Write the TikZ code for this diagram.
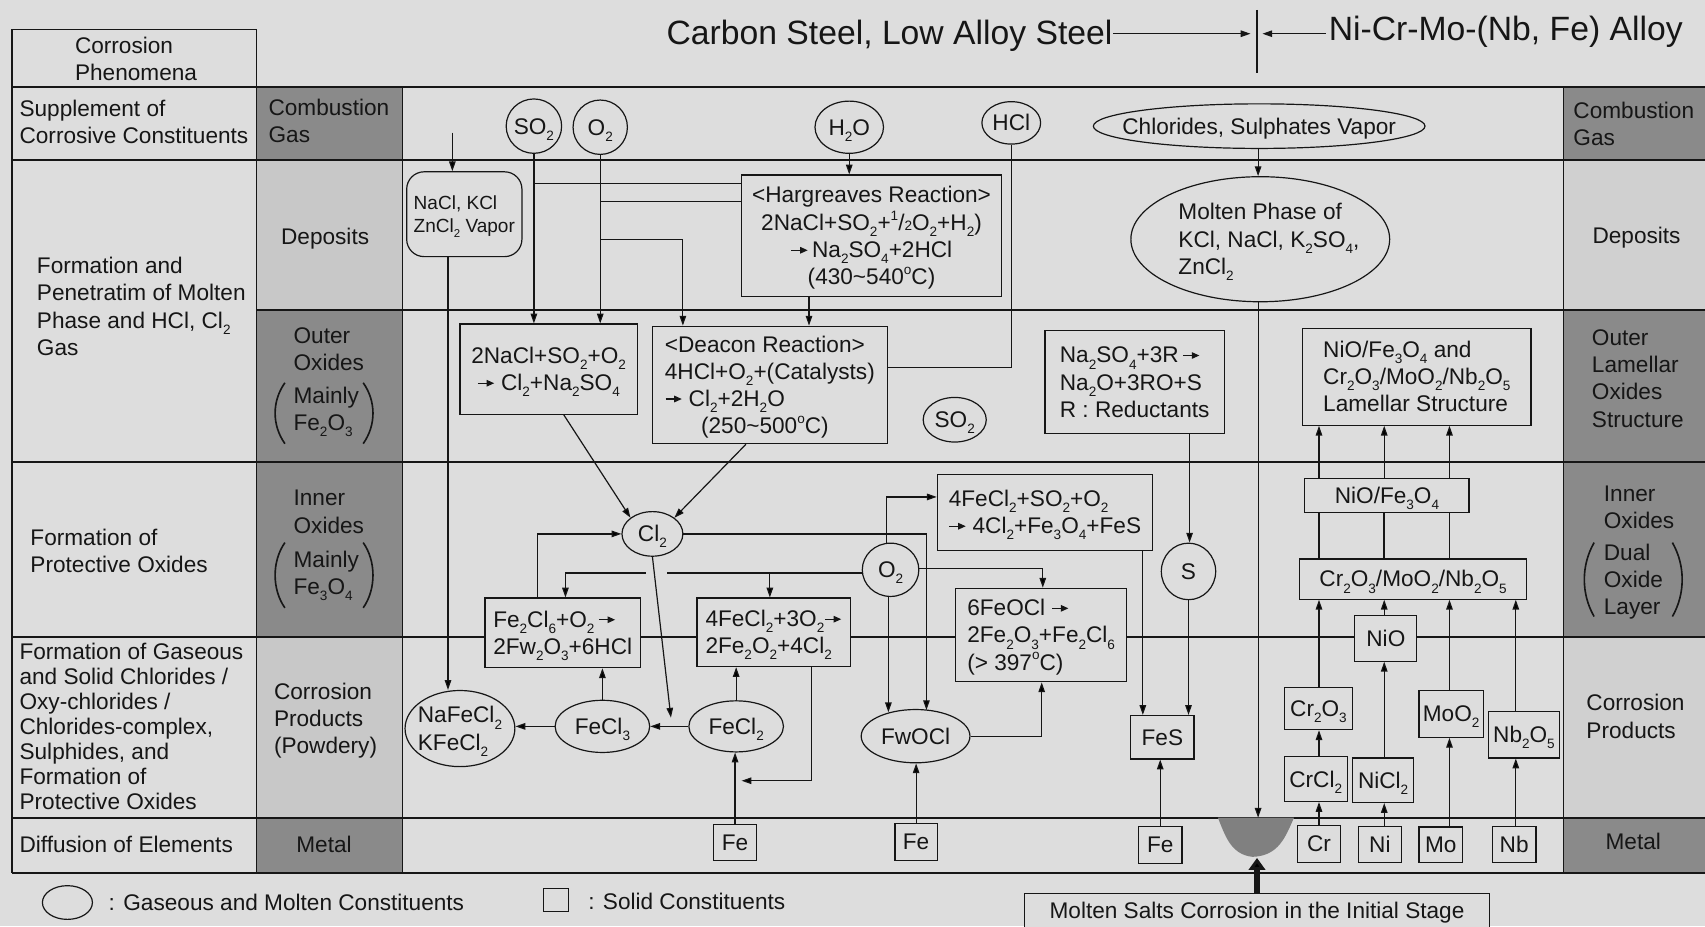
\documentclass[tikz,border=0pt]{standalone}
\usepackage{fontspec}
\setmainfont{Liberation Sans}
\usepackage{graphicx}
\usetikzlibrary{shapes.geometric,arrows.meta}
\pgfdeclarelayer{bg}
\pgfsetlayers{bg,main}
\definecolor{bgc}{RGB}{221,221,221}
\definecolor{dk}{RGB}{138,138,138}
\definecolor{lt}{RGB}{200,200,200}
\definecolor{lr}{RGB}{208,208,208}
\definecolor{ink}{RGB}{22,22,22}
\definecolor{blobc}{RGB}{128,128,128}
\newcommand\fs{\fontsize{20.8}{25}\selectfont}
\newcommand\sbs[1]{\raisebox{-0.27em}{\scalebox{0.6}{#1}}}
\newcommand\sps[1]{\raisebox{0.45em}{\scalebox{0.6}{#1}}}
\newcommand\rar{\tikz[baseline=0pt]\draw[draw=ink,line width=1.1pt,-{Triangle[length=7pt,width=6pt]}] (0pt,0.33em)--(15pt,0.33em);}
\newcommand\zc[1]{\makebox[0pt]{\raisebox{-0.36em}[0pt][0pt]{\begin{tabular}{@{}c@{}}#1\end{tabular}}}}
\newcommand\zl[1]{\makebox[0pt]{\raisebox{-0.36em}[0pt][0pt]{\begin{tabular}{@{}l@{}}#1\end{tabular}}}}
\newcommand\zw[1]{\makebox[0pt][l]{\raisebox{-0.36em}[0pt][0pt]{\begin{tabular}{@{}l@{}}#1\end{tabular}}}}
\begin{document}
\begin{tikzpicture}[x=1pt,y=-1pt,
  box/.style={draw=ink, line width=1.1pt, fill=bgc, rectangle, inner sep=0pt, font=\fs, text=ink},
  rbox/.style={box, rounded corners=16pt},
  gas/.style={draw=ink, line width=1.1pt, fill=bgc, ellipse, inner sep=0pt, font=\fs, text=ink},
  lbl/.style={inner sep=0pt, font=\fs, text=ink},
  arr/.style={draw=ink, line width=1.1pt, -{Triangle[length=9pt,width=6pt]}},
  ln/.style={draw=ink, line width=1.1pt},
  tline/.style={draw=ink, line width=1.5pt},
  paren/.style={draw=ink, line width=1.5pt}]
\useasboundingbox (0,0) rectangle (1568,852);

% ---------- table ----------
\begin{pgfonlayer}{bg}
\fill[bgc] (0,0) rectangle (1568,852);
\fill[dk] (236,80) rectangle (370,147);
\fill[lt] (236,147) rectangle (370,285);
\fill[dk] (236,285) rectangle (370,586);
\fill[lt] (236,586) rectangle (370,752);
\fill[dk] (236,752) rectangle (370,803);
\fill[dk] (1438,80) rectangle (1568,147);
\fill[lr] (1438,147) rectangle (1568,285);
\fill[dk] (1438,285) rectangle (1568,586);
\fill[lr] (1438,586) rectangle (1568,752);
\fill[dk] (1438,752) rectangle (1568,803);
\draw[tline] (11,27) rectangle (236,80);
\draw[tline] (11,80) -- (1568,80);
\draw[tline] (11,147) -- (1568,147);
\draw[tline] (236,285) -- (1568,285);
\draw[tline] (11,425) -- (1568,425);
\draw[tline] (11,586) -- (1568,586);
\draw[tline] (11,752) -- (1568,752);
\draw[tline] (11,803) -- (1568,803);
\draw[tline] (11,27) -- (11,803);
\draw[tline] (236,27) -- (236,803);
\draw[tline] (370,80) -- (370,803);
\draw[tline] (1438,80) -- (1438,803);
\end{pgfonlayer}

% ---------- title ----------
\node[lbl,font=\fontsize{31}{36}\selectfont] (tl) at (613,29) {\zw{Carbon Steel, Low Alloy Steel}};
\node[lbl,font=\fontsize{31}{36}\selectfont] (tr) at (1222,25) {\zw{Ni-Cr-Mo-(Nb, Fe) Alloy}};
\coordinate (tl1) at (1024,31);
\coordinate (tm1) at (1150,31);
\coordinate (tr1) at (1219,31);
\coordinate (tm2) at (1161,31);
\coordinate (vt) at (1156,9);
\coordinate (vb) at (1156,67);
\draw[arr] (tl1) -- (tm1);
\draw[arr] (tr1) -- (tm2);
\draw[ln] (vt) -- (vb);

% ---------- table labels ----------
\node[lbl] (tCP) at (69,54) {\zw{Corrosion\\Phenomena}};
\node[lbl] (tSup) at (18,112) {\zw{Supplement of\\Corrosive Constituents}};
\node[lbl] (tForm1) at (34,282) {\zw{Formation and\\Penetratim of Molten\\Phase and HCl, Cl\sbs{2}\\Gas}};
\node[lbl] (tForm2) at (28,507) {\zw{Formation of\\Protective Oxides}};
\node[lbl,font=\fontsize{20.8}{23}\selectfont] (tForm3) at (18,669) {\zw{Formation of Gaseous\\and Solid Chlorides /\\Oxy-chlorides /\\Chlorides-complex,\\Sulphides, and\\Formation of\\Protective Oxides}};
\node[lbl] (tDiff) at (18,777) {\zw{Diffusion of Elements}};
\node[lbl] (tCG) at (247,111) {\zw{Combustion\\Gas}};
\node[lbl] (tDep) at (299,218) {\zc{Deposits}};
\node[lbl] (tOut) at (270,321) {\zw{Outer\\Oxides}};
\node[lbl] (tOutM) at (270,376) {\zw{Mainly\\Fe\sbs{2}O\sbs{3}}};
\node[lbl] (tInn) at (270,470.5) {\zw{Inner\\Oxides}};
\node[lbl] (tInnM) at (270,527) {\zw{Mainly\\Fe\sbs{3}O\sbs{4}}};
\node[lbl] (tCorr) at (252,661) {\zw{Corrosion\\Products\\(Powdery)}};
\node[lbl] (tMet) at (298,777) {\zc{Metal}};
\node[lbl] (rCG) at (1447,114) {\zw{Combustion\\Gas}};
\node[lbl] (rDep) at (1505,217) {\zc{Deposits}};
\node[lbl] (rOut) at (1464,348) {\zw{Outer\\Lamellar\\Oxides\\Structure}};
\node[lbl] (rInn) at (1475,466) {\zw{Inner\\Oxides}};
\node[lbl] (rDual) at (1475,533) {\zw{Dual\\Oxide\\Layer}};
\node[lbl] (rCorr) at (1459,659) {\zw{Corrosion\\Products}};
\node[lbl] (rMet) at (1502,774) {\zc{Metal}};
\draw[paren] (262,352) .. controls (250,369) and (250,391) .. (262,408);
\draw[paren] (334,352) .. controls (346,369) and (346,391) .. (334,408);
\draw[paren] (262,499) .. controls (250,516) and (250,542) .. (262,559);
\draw[paren] (334,499) .. controls (346,516) and (346,542) .. (334,559);
\draw[paren] (1466,499) .. controls (1454,520) and (1454,546) .. (1466,567);
\draw[paren] (1538,499) .. controls (1550,520) and (1550,546) .. (1538,567);

% ---------- nodes ----------
\node[gas,minimum width=51,minimum height=50] (SOa) at (491,116) {\zc{SO\sbs{2}}};
\node[gas,minimum width=50,minimum height=50] (Oa) at (552,117) {\zc{O\sbs{2}}};
\node[gas,minimum width=63,minimum height=48] (HtO) at (781,117) {\zc{H\sbs{2}O}};
\node[gas,minimum width=54,minimum height=39] (HCl) at (930,113) {\zc{HCl}};
\node[gas,minimum width=305,minimum height=41] (Vap) at (1158,116) {\zc{Chlorides, Sulphates Vapor}};
\node[rbox,minimum width=106,minimum height=78,font=\fontsize{17.5}{21}\selectfont] (NaCl) at (427,197) {\zl{NaCl, KCl\\ZnCl\sbs{2} Vapor}};
\node[box,minimum width=239,minimum height=112] (Harg) at (801.5,217) {\zc{\textless Hargreaves Reaction\textgreater\\2NaCl+SO\sbs{2}+\sps{1}/\scalebox{0.6}{2}O\sbs{2}+H\sbs{2})\\\rar\,Na\sbs{2}SO\sbs{4}+2HCl\\(430\textasciitilde540\sps{o}C)}};
\node[gas,minimum width=238,minimum height=115] (Mol) at (1159,220) {\zl{\hspace*{16pt}\begin{tabular}{@{}l@{}}Molten Phase of\\KCl, NaCl, K\sbs{2}SO\sbs{4},\\ZnCl\sbs{2}\end{tabular}}};
\node[box,minimum width=163,minimum height=83] (R1) at (504.5,339.5) {\zc{2NaCl+SO\sbs{2}+O\sbs{2}\\\rar\ Cl\sbs{2}+Na\sbs{2}SO\sbs{4}}};
\node[box,minimum width=216,minimum height=108] (Deac) at (708,354) {\zl{\textless Deacon Reaction\textgreater\\4HCl+O\sbs{2}+(Catalysts)\\\rar\ Cl\sbs{2}+2H\sbs{2}O\\\hspace*{1.6em}(250\textasciitilde500\sps{o}C)}};
\node[gas,minimum width=58,minimum height=41] (SOb) at (878,386) {\zc{SO\sbs{2}}};
\node[box,minimum width=165,minimum height=95] (Na2) at (1043.5,351.5) {\zl{Na\sbs{2}SO\sbs{4}+3R\,\rar\\Na\sbs{2}O+3RO+S\\R : Reductants}};
\node[box,minimum width=210,minimum height=89] (Lam) at (1303,346.5) {\zl{NiO/Fe\sbs{3}O\sbs{4} and\\Cr\sbs{2}O\sbs{3}/MoO\sbs{2}/Nb\sbs{2}O\sbs{5}\\Lamellar Structure}};
\node[gas,minimum width=56,minimum height=41] (Cl2) at (600,491) {\zc{Cl\sbs{2}}};
\node[box,minimum width=198,minimum height=70] (FeSO) at (961,471) {\zl{4FeCl\sbs{2}+SO\sbs{2}+O\sbs{2}\\\rar\ 4Cl\sbs{2}+Fe\sbs{3}O\sbs{4}+FeS}};
\node[gas,minimum width=52,minimum height=49] (O2b) at (819,524) {\zc{O\sbs{2}}};
\node[gas,minimum width=50,minimum height=52] (S) at (1093,525.5) {\zc{S}};
\node[box,minimum width=151,minimum height=31] (NiFe) at (1275.5,455.5) {\zc{NiO/Fe\sbs{3}O\sbs{4}}};
\node[box,minimum width=209,minimum height=37] (CrMo) at (1299.5,532.5) {\zc{Cr\sbs{2}O\sbs{3}/MoO\sbs{2}/Nb\sbs{2}O\sbs{5}}};
\node[box,minimum width=143,minimum height=64] (FeCl6) at (517.5,582) {\zl{Fe\sbs{2}Cl\sbs{6}+O\sbs{2}\,\rar\\2Fw\sbs{2}O\sbs{3}+6HCl}};
\node[box,minimum width=141,minimum height=63] (FeO2) at (711.5,581.5) {\zl{4FeCl\sbs{2}+3O\sbs{2}\rar\\2Fe\sbs{2}O\sbs{2}+4Cl\sbs{2}}};
\node[box,minimum width=157,minimum height=86] (FeOCl) at (957.5,584) {\zl{6FeOCl \rar\\2Fe\sbs{2}O\sbs{3}+Fe\sbs{2}Cl\sbs{6}\\(\textgreater\ 397\sps{o}C)}};
\node[box,minimum width=57,minimum height=42] (NiO) at (1274.5,587) {\zc{NiO}};
\node[gas,minimum width=101,minimum height=70] (NaFe) at (423,670) {\zl{NaFeCl\sbs{2}\\KFeCl\sbs{2}}};
\node[gas,minimum width=87,minimum height=48] (FeCl3) at (554,668) {\zc{FeCl\sbs{3}}};
\node[gas,minimum width=87,minimum height=47] (FeCl2) at (677,668) {\zc{FeCl\sbs{2}}};
\node[gas,minimum width=100,minimum height=49] (FwO) at (842,677) {\zc{FwOCl}};
\node[box,minimum width=58,minimum height=40] (FeS) at (1069,678) {\zc{FeS}};
\node[box,minimum width=63,minimum height=39] (Cr2O3) at (1212.5,651.5) {\zc{Cr\sbs{2}O\sbs{3}}};
\node[box,minimum width=59,minimum height=43] (MoO2) at (1334.5,656.5) {\zc{MoO\sbs{2}}};
\node[box,minimum width=65,minimum height=43] (Nb2O5) at (1401.5,675.5) {\zc{Nb\sbs{2}O\sbs{5}}};
\node[box,minimum width=58,minimum height=41] (CrCl2) at (1210,716.5) {\zc{CrCl\sbs{2}}};
\node[box,minimum width=56,minimum height=41] (NiCl2) at (1272,717.5) {\zc{NiCl\sbs{2}}};
\node[box,minimum width=39,minimum height=33] (Fe1) at (676,775) {\zc{Fe}};
\node[box,minimum width=39,minimum height=34] (Fe2) at (842.5,774) {\zc{Fe}};
\node[box,minimum width=40,minimum height=34] (Fe3) at (1067,777) {\zc{Fe}};
\node[box,minimum width=40,minimum height=34] (Cr) at (1213,776) {\zc{Cr}};
\node[box,minimum width=40,minimum height=33] (Ni) at (1269,776.5) {\zc{Ni}};
\node[box,minimum width=40,minimum height=33] (Mo) at (1325,777) {\zc{Mo}};
\node[box,minimum width=40,minimum height=33] (Nb) at (1392.5,776.5) {\zc{Nb}};
\node[box,minimum width=428,minimum height=32,anchor=north] (MS) at (1156,821) {\zc{Molten Salts Corrosion in the Initial Stage}};

% blob
\fill[blobc] (1120,752) .. controls (1126,766) and (1131,786) .. (1152,788) .. controls (1176,787) and (1182,770) .. (1190,752) -- cycle;

% legend
\node[gas,minimum width=46,minimum height=31] (lg1) at (62,830) {};
\node[lbl] (lg1t) at (100,830) {\zw{: Gaseous and Molten Constituents}};
\node[box,minimum width=23,minimum height=21,line width=0.9pt] (lg2) at (511,828) {};
\node[lbl] (lg2t) at (541,829) {\zw{: Solid Constituents}};

% ---------- connectors ----------
\coordinate (naclIn) at (416,122);
\draw[arr] (naclIn) -- (naclIn |- NaCl.north);
\coordinate (xNa) at (412,0);
\draw[arr] (NaCl.south -| xNa) -- (NaFe.north -| xNa);
\draw[arr] (SOa.south) -- (SOa.south |- R1.north);
\draw[arr] (Oa.south) -- (Oa.south |- R1.north);
\coordinate (y170) at (0,169);
\coordinate (y184) at (0,185);
\draw[ln] (SOa.south |- y170) -- (Harg.west |- y170);
\draw[ln] (Oa.south |- y184) -- (Harg.west |- y184);
\coordinate (dg) at (628,220);
\draw[arr] (Oa.south |- dg) -- (dg) -- (dg |- Deac.north);
\draw[arr] (HtO.south) -- (HtO.south |- Harg.north);
\coordinate (xh) at (744,0);
\draw[arr] (Harg.south -| xh) -- (Deac.north -| xh);
\coordinate (hc) at (930,338);
\draw[ln] (HCl.south) -- (hc) -- (hc -| Deac.east);
\coordinate (xm) at (1157,0);
\coordinate (blobtop) at (1157,752);
\draw[arr] (Vap.south -| xm) -- (Mol.north -| xm);
\draw[arr] (Mol.south -| xm) -- (blobtop);
\draw[arr] ([xshift=14pt]R1.south) -- (Cl2.north west);
\draw[arr] ([xshift=-22pt]Deac.south) -- (Cl2.north east);
\coordinate (o1) at (494,491);
\draw[arr] (FeCl6.north -| o1) -- (o1) -- (Cl2.west);
\coordinate (p1) at (852,491);
\coordinate (p2) at (852,653);
\draw[arr] (Cl2.east) -- (p1) -- (p2);
\coordinate (q1) at (617,660);
\draw[arr] (Cl2.south) -- (q1);
\coordinate (r1) at (613,527);
\coordinate (r2) at (594,527);
\coordinate (r3) at (520,527);
\coordinate (r4) at (708,527);
\draw[ln] (O2b.west |- r1) -- (r1);
\draw[arr] (r2) -- (r3) -- (r3 |- FeCl6.north);
\draw[arr] (r4) -- (r4 |- FeO2.north);
\coordinate (s1) at (959,523);
\draw[arr] (O2b.east |- s1) -- (s1) -- (s1 |- FeOCl.north);
\coordinate (t1) at (815,457);
\draw[arr] (O2b.north -| t1) -- (t1) -- (t1 -| FeSO.west);
\coordinate (u1) at (817,0);
\coordinate (u2) at (817,655);
\draw[arr] (O2b.south -| u1) -- (u2);
\coordinate (v1) at (1051,0);
\draw[arr] (FeSO.south -| v1) -- (FeS.north -| v1);
\coordinate (w1) at (1094,0);
\draw[arr] (Na2.south -| w1) -- (S.north -| w1);
\draw[arr] (S.south) -- (S.south |- FeS.north);
\draw[arr] (Fe3.north) -- (Fe3.north |- FeS.south);
\draw[arr] (FeCl3.north) -- (FeCl3.north |- FeCl6.south);
\draw[arr] (FeCl2.west) -- (FeCl2.west -| FeCl3.east);
\draw[arr] (FeCl3.west) -- (FeCl3.west -| NaFe.east);
\draw[arr] (FeCl2.north) -- (FeCl2.north |- FeO2.south);
\draw[arr] (Fe1.north) -- (Fe1.north |- FeCl2.south);
\coordinate (e1) at (746,718);
\coordinate (e2) at (682,718);
\draw[arr] (FeO2.south -| e1) -- (e1) -- (e2);
\coordinate (f1) at (958,677);
\draw[arr] (FwO.east) -- (f1) -- (f1 |- FeOCl.south);
\draw[arr] (Fe2.north) -- (Fe2.north |- FwO.south);
% right-hand chains
\coordinate (xa) at (1213,0);
\coordinate (xb) at (1273,0);
\coordinate (xc) at (1333,0);
\coordinate (xd) at (1394,0);
\draw[arr] (Cr.north -| xa) -- (CrCl2.south -| xa);
\draw[arr] (CrCl2.north -| xa) -- (Cr2O3.south -| xa);
\draw[arr] (Cr2O3.north -| xa) -- (CrMo.south -| xa);
\draw[ln] (CrMo.north -| xa) -- (NiFe.south -| xa);
\draw[arr] (NiFe.north -| xa) -- (Lam.south -| xa);
\draw[arr] (Ni.north -| xb) -- (NiCl2.south -| xb);
\draw[arr] (NiCl2.north -| xb) -- (NiO.south -| xb);
\draw[arr] (NiO.north -| xb) -- (CrMo.south -| xb);
\draw[ln,line width=2pt] (CrMo.north -| xb) -- (NiFe.south -| xb);
\draw[arr] (NiFe.north -| xb) -- (Lam.south -| xb);
\draw[arr] (Mo.north -| xc) -- (MoO2.south -| xc);
\draw[arr] (MoO2.north -| xc) -- (CrMo.south -| xc);
\draw[ln] (CrMo.north -| xc) -- (NiFe.south -| xc);
\draw[arr] (NiFe.north -| xc) -- (Lam.south -| xc);
\draw[arr] (Nb.north -| xd) -- (Nb2O5.south -| xd);
\draw[arr] (Nb2O5.north -| xd) -- (CrMo.south -| xd);
% thick arrow
\coordinate (blobbot) at (1156,789);
\draw[draw=ink, line width=5pt, -{Triangle[length=11pt,width=15pt]}] (MS.north) -- (blobbot);
\end{tikzpicture}
\end{document}
